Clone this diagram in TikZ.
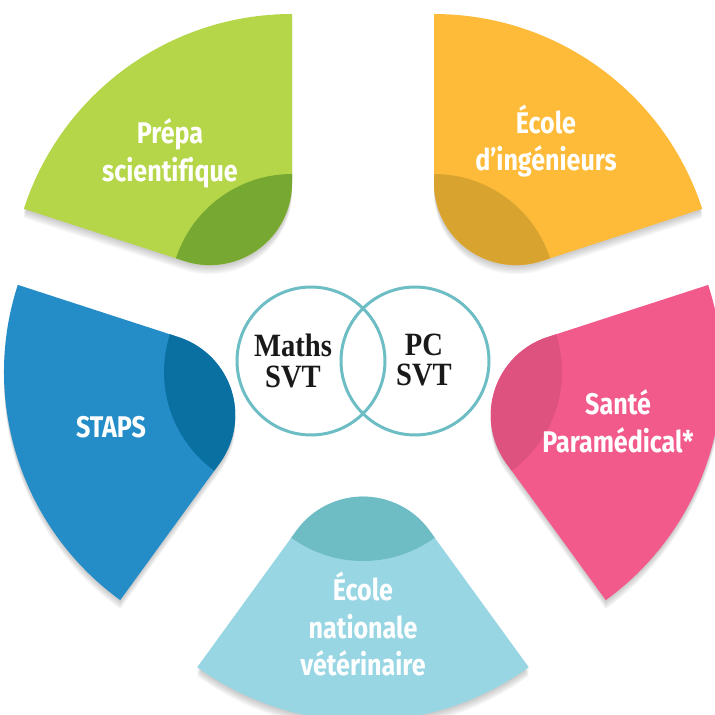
\documentclass[tikz,border=0pt]{standalone}
\usepackage{fontspec}
\usepackage{xcolor}
\usepackage{tikz}
\usetikzlibrary{positioning,calc}
\newfontfamily\petalfont[FakeStretch=0.84, Ligatures=NoCommon]{Fira Sans}
\newfontfamily\ringfont[FakeStretch=0.88]{Liberation Serif}

\definecolor{prepagreen}{HTML}{B5D648}
\definecolor{prepadark}{HTML}{76A832}
\definecolor{ingyellow}{HTML}{FDBB39}
\definecolor{ingdark}{HTML}{D8A32E}
\definecolor{santepink}{HTML}{F35A8C}
\definecolor{santedark}{HTML}{DE5280}
\definecolor{vetoblue}{HTML}{98D6E4}
\definecolor{vetodark}{HTML}{6EBCC4}
\definecolor{stapsblue}{HTML}{248DC8}
\definecolor{stapsdark}{HTML}{0A70A2}
\definecolor{ringteal}{HTML}{6DBDC4}

% one petal, apex at the origin, opening from #1 to #1+72
\newcommand{\petalshape}[1]{(#1:113) -- (#1:282) arc[start angle=#1, end angle=#1+72, radius=5.64cm] -- (#1+72:113) arc[start angle=#1+162, end angle=#1+270, radius=1.642cm] -- cycle}

\begin{document}
\begin{tikzpicture}[x=0.02cm, y=0.02cm,
    petallabel/.style={text=white, align=center, font=\petalfont\bfseries\fontsize{17}{21.5}\selectfont},
    ringlabel/.style={text=black!90, align=center, font=\ringfont\bfseries\fontsize{18.5}{17.5}\selectfont},
    ring/.style={draw=ringteal, line width=1.7pt}]
    \useasboundingbox (-363,-359) rectangle (352,355);
    \fill[white] (-363,-359) rectangle (352,355);

    % Petals: apex x / apex y / start angle / colour / dark colour
    \foreach \ax/\ay/\a/\lc/\dc in {-71/59/90/prepagreen/prepadark, 71/59/18/ingyellow/ingdark, 77/-17/-54/santepink/santedark, 0/-84/234/vetoblue/vetodark, -77/-17/162/stapsblue/stapsdark} {
        \foreach \s in {1,...,7} {
            \fill[black!70, opacity=0.045, shift={(\ax,\ay-1.3*\s)}] \petalshape{\a};
        }
        \begin{scope}[shift={(\ax,\ay)}]
            \fill[\lc] \petalshape{\a};
            \clip \petalshape{\a};
            \fill[\dc] (0,0) circle[radius=2.44cm];
        \end{scope}
    }

    % Labels
    \node[petallabel] (prepa) at (-193,202) {Prépa\\scientifique};
    \node[petallabel] (ingenieurs) at (183,214) {École\\d’ingénieurs};
    \node[petallabel] (sante) at (255,-66) {Santé\\Paramédical*};
    \node[petallabel] (veto) at (0,-269) {École\\nationale\\vétérinaire};
    \node[petallabel] (staps) at (-252,-72) {STAPS};

    % Two rings in the middle
    \draw[ring] (-52,-6) circle[radius=1.48cm];
    \draw[ring] (52,-6) circle[radius=1.48cm];
    \node[ringlabel] (maths) at (-70,-6) {Maths\\SVT};
    \node[ringlabel] (pc) at (61,-5) {PC\\SVT};
\end{tikzpicture}
\end{document}
